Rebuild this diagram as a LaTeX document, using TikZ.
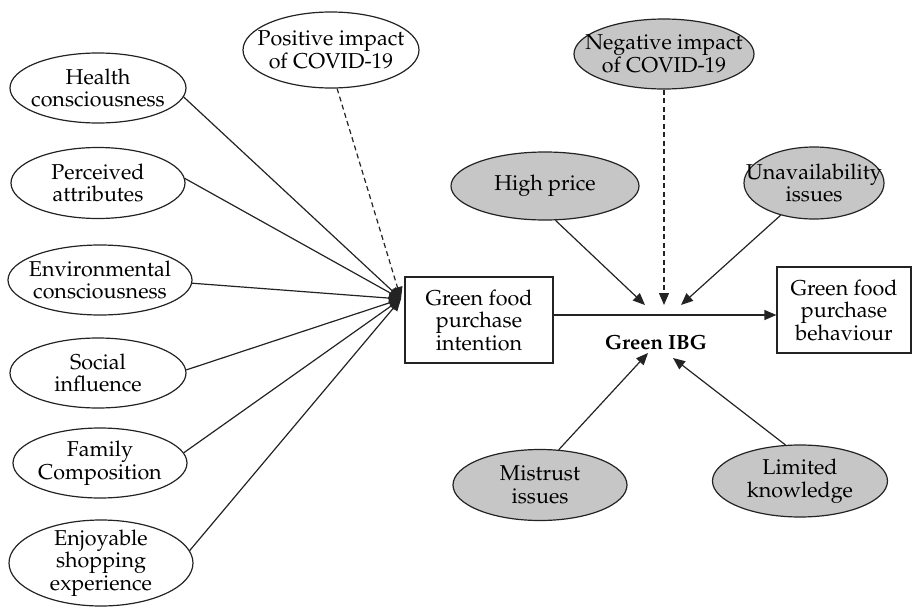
\documentclass[tikz,border=0pt]{standalone}
\usepackage[T1]{fontenc}
\usepackage{mathpazo}
\usetikzlibrary{shapes.geometric,arrows.meta}
\definecolor{ellgrey}{RGB}{198,198,198}
\definecolor{edgecol}{RGB}{35,35,35}
\begin{document}
\begin{tikzpicture}[x=1pt,y=-1pt,
  every node/.style={font=\fontsize{21.5}{22.5}\selectfont},
  ell/.style={ellipse, draw=edgecol, line width=1.2pt, inner sep=0pt},
  wellipse/.style={ell, fill=white},
  gellipse/.style={ell, fill=ellgrey},
  lbl/.style={align=center, inner sep=0pt, text=black},
  boxnode/.style={draw=edgecol, line width=1.2pt, fill=white, align=center, inner sep=0pt},
  conn/.style={line width=1.2pt, draw=edgecol, -{Triangle[length=12pt,width=10pt]}},
  dconn/.style={conn, dash pattern=on 5pt off 3.5pt},
]
\useasboundingbox (0,0) rectangle (914,608);

% left column
\node[wellipse, minimum width=176pt, minimum height=70pt] (health) at (98,88) {};
\node[lbl] (healthT) at (health) {Health\\consciousness};
\node[wellipse, minimum width=174pt, minimum height=71pt] (perc) at (98,183) {};
\node[lbl] (percT) at (perc) {Perceived\\attributes};
\node[wellipse, minimum width=184pt, minimum height=70pt] (env) at (100,280) {};
\node[lbl] (envT) at (env) {Environmental\\consciousness};
\node[wellipse, minimum width=176pt, minimum height=70pt] (social) at (98,373) {};
\node[lbl] (socialT) at (social) {Social\\influence};
\node[wellipse, minimum width=174pt, minimum height=70pt] (family) at (100,463) {};
\node[lbl] (familyT) at (family) {Family\\Composition};
\node[wellipse, minimum width=184pt, minimum height=86pt] (enjoy) at (101,563) {};
\node[lbl] (enjoyT) at (enjoy) {Enjoyable\\shopping\\experience};

% top ellipses
\node[wellipse, minimum width=176pt, minimum height=76pt] (positive) at (331,50) {};
\node[lbl] (positiveT) at (positive) {Positive impact\\of COVID-19};
\node[gellipse, minimum width=180pt, minimum height=70pt] (negative) at (664,54) {};
\node[lbl] (negativeT) at (negative) {Negative impact\\of COVID-19};

% grey ellipses
\node[gellipse, minimum width=188pt, minimum height=68pt] (high) at (545,186) {};
\node[lbl] (highT) at (high) {High price};
\node[gellipse, minimum width=140pt, minimum height=72pt] (unav) at (814,183) {};
\node[lbl] (unavT) at (unav) {Unavailability\\issues};
\node[gellipse, minimum width=174pt, minimum height=71pt] (mistrust) at (540,485) {};
\node[lbl] (mistrustT) at (mistrust) {Mistrust\\issues};
\node[gellipse, minimum width=175pt, minimum height=72pt] (limited) at (800,481) {};
\node[lbl] (limitedT) at (limited) {Limited\\knowledge};

% boxes
\node[boxnode, minimum width=148pt, minimum height=86pt] (intention) at (479,320) {Green food\\purchase\\intention};
\node[boxnode, minimum width=134pt, minimum height=86pt] (behaviour) at (844,310) {Green food\\purchase\\behaviour};
\node[font=\bfseries\fontsize{20.5}{22}\selectfont, inner sep=0pt] (ibg) at (656,342) {Green IBG};

% coordinates
\coordinate (conv) at (401,299);
\coordinate (t1) at (645,305);
\coordinate (t2) at (664,305);
\coordinate (t3) at (681,305);
\coordinate (b1) at (648,353);
\coordinate (b2) at (673,358);

% connectors
\draw[conn] (health.-6) -- (conv);
\draw[conn] (perc.3) -- (conv);
\draw[conn] (env.-2) -- (conv);
\draw[conn] (social.2) -- (conv);
\draw[conn] (family.7) -- (conv);
\draw[conn] (enjoy.8) -- (conv);
\draw[dconn] (positive.-81) -- (conv);
\draw[conn] ([yshift=5pt]intention.east) -- ([yshift=5pt]intention.east -| behaviour.west);
\draw[conn] (high.-73) -- (t1);
\draw[dconn] (negative.south) -- (t2);
\draw[conn] (unav.-136) -- (t3);
\draw[conn] (mistrust.62) -- (b1);
\draw[conn] (limited.112) -- (b2);
\end{tikzpicture}
\end{document}
